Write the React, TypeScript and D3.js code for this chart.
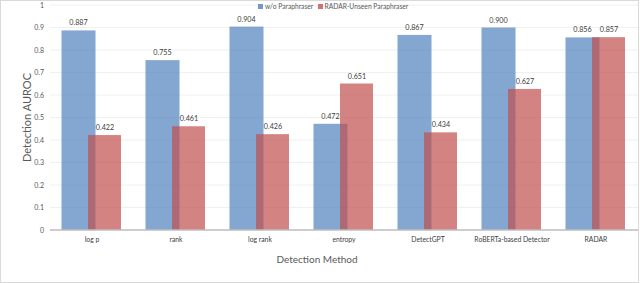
import * as d3 from 'd3';

// chart data
const methods = ['log p', 'rank', 'log rank', 'entropy', 'DetectGPT', 'RoBERTa-based Detector', 'RADAR'];
const withoutParaphraser = [0.887, 0.755, 0.904, 0.472, 0.867, 0.9, 0.856];
const unseenParaphraser = [0.422, 0.461, 0.426, 0.651, 0.434, 0.627, 0.857];
const yTicks = [0, 0.1, 0.2, 0.3, 0.4, 0.5, 0.6, 0.7, 0.8, 0.9, 1];
const seriesNames = ['w/o Paraphraser', 'RADAR-Unseen Paraphraser'];

const WIDTH = 640;
const HEIGHT = 283;
const MARGIN = { top: 5, right: 2, bottom: 53, left: 50 };
const BLUE = '#4f81bd';
const RED = '#c0504d';
const FONT = 'Lato, "Open Sans", sans-serif';

export default function App() {
  const boundsWidth = WIDTH - MARGIN.left - MARGIN.right;
  const boundsHeight = HEIGHT - MARGIN.top - MARGIN.bottom;

  const xScale = d3.scaleBand().domain(methods).range([0, boundsWidth]);
  const yScale = d3.scaleLinear().domain([0, 1]).range([boundsHeight, 0]);

  const barWidth = 34;
  const overlap = 8;
  const fmt = (v: number) => (v === 1 ? '1' : v === 0 ? '0' : v.toFixed(3));

  const bars = methods.map((m, i) => {
    const center = (xScale(m) as number) + xScale.bandwidth() / 2;
    const blueX = center - barWidth + overlap / 2 - 0.5;
    const redX = center - overlap / 2;
    const b = withoutParaphraser[i];
    const r = unseenParaphraser[i];
    return (
      <g key={m}>
        <rect x={blueX} y={yScale(b)} width={barWidth} height={boundsHeight - yScale(b)}
          fill={BLUE} fillOpacity={0.7} />
        <rect x={redX} y={yScale(r)} width={barWidth - 1} height={boundsHeight - yScale(r)}
          fill={RED} fillOpacity={0.7} />
        <text x={blueX + barWidth / 2} y={yScale(b) - 5} textAnchor="middle" fontSize={7.2} fill="#404040">
          {fmt(b)}
        </text>
        <text x={redX + barWidth / 2} y={yScale(r) - 5} textAnchor="middle" fontSize={7.2} fill="#404040">
          {fmt(r)}
        </text>
        <text x={center} y={boundsHeight + 12} textAnchor="middle" fontSize={6.8} fill="#404040">
          {m}
        </text>
      </g>
    );
  });

  return (
    <svg width={WIDTH} height={HEIGHT} style={{ position: 'absolute', left: 0, top: 0, fontFamily: FONT }}>
      <rect x={0.5} y={0.5} width={WIDTH - 2} height={HEIGHT - 1} fill="#fff" stroke="#d9d9d9" />
      <g transform={`translate(${MARGIN.left},${MARGIN.top})`}>
        {/* gridlines */}
        {yTicks.map((t) => (
          <line key={t} x1={0} x2={boundsWidth} y1={yScale(t)} y2={yScale(t)} stroke="#f0f0f0" strokeWidth={1} />
        ))}
        {yTicks.map((t) => (
          <text key={'l' + t} x={-6} y={yScale(t) + 2.5} textAnchor="end" fontSize={7} fill="#595959">
            {t === 0 ? '0' : t === 1 ? '1' : t.toFixed(1)}
          </text>
        ))}
        {bars}
        <line x1={0} x2={boundsWidth} y1={boundsHeight} y2={boundsHeight} stroke="#bfbfbf" strokeWidth={1.5} />
      </g>
      <text transform={`translate(31,${MARGIN.top + boundsHeight / 2}) rotate(-90)`} textAnchor="middle"
        fontSize={11} fill="#595959">
        Detection AUROC
      </text>
      <text x={317} y={263} textAnchor="middle" fontSize={10} fill="#595959">
        Detection Method
      </text>
      {/* legend */}
      <g transform="translate(258,4)">
        <rect x={0} y={0} width={5} height={5} fill={BLUE} fillOpacity={0.8} />
        <text x={7} y={5} fontSize={6.7} fill="#595959">{seriesNames[0]}</text>
        <rect x={60} y={0} width={5} height={5} fill={RED} fillOpacity={0.8} />
        <text x={66.5} y={5} fontSize={6.7} fill="#595959">{seriesNames[1]}</text>
      </g>
    </svg>
  );
}
